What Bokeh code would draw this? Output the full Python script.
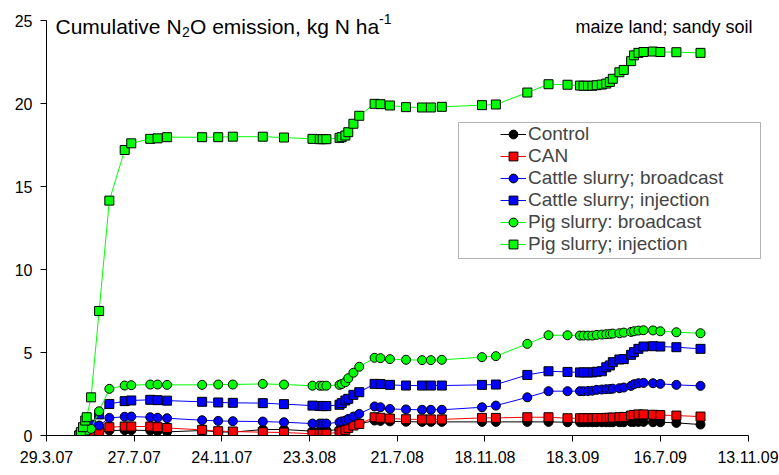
from datetime import datetime, timedelta

from bokeh.plotting import figure
from bokeh.models import (Range1d, FixedTicker, Label, Legend, LegendItem,
                          BoxAnnotation, ColumnDataSource)
from bokeh.embed import file_html
from bokeh.resources import INLINE

# Sampling dates (d.m.yy)
dates = [
    "13.5.07", "15.5.07", "18.5.07", "21.5.07", "23.5.07", "29.5.07", "9.6.07", "23.6.07", "14.7.07", "23.7.07",
    "18.8.07", "28.8.07", "10.9.07", "28.10.07", "19.11.07", "9.12.07", "19.1.08", "17.2.08", "27.3.08", "6.4.08",
    "10.4.08", "15.4.08", "3.5.08", "6.5.08", "11.5.08", "15.5.08", "22.5.08", "30.5.08", "20.6.08", "28.6.08",
    "11.7.08", "2.8.08", "24.8.08", "5.9.08", "20.9.08", "14.11.08", "3.12.08", "15.1.09", "13.2.09", "11.3.09",
    "28.3.09", "2.4.09", "8.4.09", "14.4.09", "20.4.09", "27.4.09", "3.5.09", "8.5.09", "12.5.09", "21.5.09",
    "27.5.09", "6.6.09", "10.6.09", "16.6.09", "23.6.09", "6.7.09", "16.7.09", "7.8.09", "9.9.09",
]

# Cumulative N2O emission, kg N/ha
control = [
    0.0, 0.0, 0.03, 0.05, 0.08, 0.1, 0.15, 0.3, 0.32, 0.32,
    0.3, 0.26, 0.22, 0.3, 0.22, 0.2, 0.36, 0.36, 0.26, 0.28,
    0.3, 0.3, 0.35, 0.4, 0.45, 0.55, 0.65, 0.7, 0.9, 0.88,
    0.85, 0.83, 0.82, 0.82, 0.82, 0.82, 0.82, 0.82, 0.82, 0.8,
    0.8, 0.8, 0.8, 0.8, 0.8, 0.8, 0.8, 0.8, 0.8, 0.8,
    0.8, 0.82, 0.82, 0.82, 0.82, 0.8, 0.8, 0.76, 0.66,
]
can = [
    0.0, 0.0, 0.05, 0.1, 0.15, 0.2, 0.25, 0.5, 0.54, 0.54,
    0.54, 0.5, 0.45, 0.34, 0.26, 0.24, 0.2, 0.18, 0.1, 0.1,
    0.1, 0.1, 0.2, 0.25, 0.34, 0.46, 0.6, 0.7, 1.1, 1.07,
    1.02, 0.98, 0.97, 0.97, 0.97, 1.06, 1.06, 1.1, 1.1, 1.04,
    1.04, 1.04, 1.04, 1.04, 1.05, 1.05, 1.06, 1.07, 1.08, 1.1,
    1.12, 1.2, 1.24, 1.27, 1.27, 1.25, 1.23, 1.2, 1.14,
]
cattle_broadcast = [
    0.0, 0.05, 0.1, 0.2, 0.3, 0.45, 0.6, 1.06, 1.13, 1.14,
    1.1, 1.07, 1.04, 0.92, 0.88, 0.86, 0.84, 0.8, 0.72, 0.72,
    0.72, 0.72, 0.8, 0.85, 0.9, 1.0, 1.14, 1.3, 1.75, 1.7,
    1.6, 1.57, 1.55, 1.55, 1.55, 1.7, 1.8, 2.3, 2.67, 2.67,
    2.67, 2.67, 2.68, 2.7, 2.75, 2.77, 2.79, 2.8, 2.82, 2.85,
    2.89, 2.99, 3.09, 3.15, 3.17, 3.15, 3.11, 3.05, 2.99,
]
cattle_injection = [
    0.0, 0.05, 0.15, 0.3, 0.4, 0.65, 1.27, 1.9, 2.07, 2.11,
    2.15, 2.13, 2.1, 2.03, 1.99, 1.97, 1.95, 1.89, 1.8, 1.78,
    1.77, 1.77, 1.85, 1.95, 2.11, 2.21, 2.45, 2.61, 3.11, 3.1,
    3.05, 3.01, 3.01, 3.01, 3.01, 3.05, 3.07, 3.65, 3.87, 3.83,
    3.8, 3.8, 3.8, 3.8, 3.84, 3.87, 4.11, 4.22, 4.42, 4.58,
    4.6, 4.86, 5.02, 5.22, 5.36, 5.38, 5.36, 5.32, 5.22,
]
pig_broadcast = [
    0.0, 0.05, 0.1, 0.15, 0.3, 0.4, 1.46, 2.81, 3.01, 3.03,
    3.07, 3.07, 3.05, 3.05, 3.07, 3.07, 3.11, 3.07, 3.0, 3.0,
    3.0, 3.0, 3.05, 3.1, 3.21, 3.45, 3.78, 4.14, 4.68, 4.66,
    4.6, 4.56, 4.54, 4.54, 4.56, 4.72, 4.78, 5.52, 6.04, 6.04,
    6.02, 6.02, 6.02, 6.02, 6.06, 6.08, 6.1, 6.12, 6.14, 6.16,
    6.2, 6.24, 6.28, 6.32, 6.34, 6.33, 6.28, 6.22, 6.16,
]
pig_injection = [
    0.0, 0.2, 0.5, 0.9, 1.1, 2.3, 7.5, 14.15, 17.2, 17.6,
    17.87, 17.9, 17.97, 17.97, 17.97, 18.0, 18.0, 17.95, 17.87, 17.85,
    17.85, 17.85, 17.93, 17.97, 18.07, 18.27, 18.78, 19.26, 19.98, 19.96,
    19.88, 19.78, 19.76, 19.76, 19.8, 19.9, 19.94, 20.66, 21.16, 21.13,
    21.08, 21.07, 21.07, 21.07, 21.1, 21.14, 21.2, 21.3, 21.49, 21.88,
    22.02, 22.55, 22.9, 23.05, 23.1, 23.13, 23.1, 23.09, 23.05,
]

series_names = ["Control", "CAN", "Cattle slurry; broadcast", "Cattle slurry; injection",
                "Pig slurry: broadcast", "Pig slurry; injection"]
series_values = [control, can, cattle_broadcast, cattle_injection, pig_broadcast, pig_injection]
series_colors = ["#000000", "#FF0000", "#0000FF", "#0000FF", "#00FF00", "#00FF00"]
series_markers = ["circle", "square", "circle", "square", "circle", "square"]

x_tick_labels = ["29.3.07", "27.7.07", "24.11.07", "23.3.08", "21.7.08",
                 "18.11.08", "18.3.09", "16.7.09", "13.11.09"]
y_ticks = [0, 5, 10, 15, 20, 25]


def parse(s):
    return datetime.strptime(s, "%d.%m.%y")


def to_ms(d):
    return int((d - datetime(1970, 1, 1)).total_seconds() * 1000)


x = [parse(s) for s in dates]
tick_dates = [parse(s) for s in x_tick_labels]
tick_ms = [to_ms(d) for d in tick_dates]

FONT = "Liberation Sans"
W, H = 779, 475
LEFT, RIGHT, TOP, BOTTOM = 46, 9, 0, 40
frame_w = W - LEFT - RIGHT
frame_h = H - TOP - BOTTOM
axis_px = 701.5     # pixel length of the drawn date axis
axis_top_px = 415   # pixel height of the 0..25 value axis

x_start, x_last = tick_dates[0], tick_dates[-1]
span_days = (x_last - x_start).days
x_end = x_start + timedelta(days=span_days * frame_w / axis_px)
y_end = 25 * frame_h / axis_top_px
days_per_px = span_days / axis_px
units_per_px = 25 / axis_top_px


def px_to_x(px):
    """Canvas pixel column -> date on the x scale."""
    return to_ms(x_start + timedelta(days=(px - LEFT) * days_per_px))


def px_to_y(py):
    """Canvas pixel row -> value on the y scale."""
    return (frame_h - py) * units_per_px


p = figure(width=W, height=H, output_backend="svg", toolbar_location=None,
           x_axis_type="datetime",
           x_range=Range1d(x_start, x_end), y_range=Range1d(0, y_end),
           min_border_left=LEFT, min_border_right=RIGHT,
           min_border_top=TOP, min_border_bottom=BOTTOM)
p.outline_line_color = None
p.grid.visible = False
p.background_fill_color = "white"
p.border_fill_color = "white"

# Axes
p.xaxis.ticker = FixedTicker(ticks=tick_ms)
p.xaxis.major_label_overrides = {ms: lab for ms, lab in zip(tick_ms, x_tick_labels)}
p.xaxis.bounds = (tick_ms[0], tick_ms[-1])
p.yaxis.ticker = FixedTicker(ticks=y_ticks)
p.yaxis.bounds = (0, 25)
for ax in (p.xaxis[0], p.yaxis[0]):
    ax.axis_line_color = "black"
    ax.axis_line_width = 1
    ax.major_tick_line_color = "black"
    ax.major_tick_in = 0
    ax.major_tick_out = 6
    ax.minor_tick_line_color = None
    ax.major_label_text_font = FONT
    ax.major_label_text_font_size = "16px"
    ax.major_label_text_color = "black"
p.xaxis.major_label_standoff = 9
p.yaxis.major_label_standoff = 8

# Series
items = []
for name, vals, col, mk in zip(series_names, series_values, series_colors, series_markers):
    src = ColumnDataSource(dict(x=x, y=vals))
    ln = p.line("x", "y", source=src, line_color=col, line_width=1)
    sc = p.scatter("x", "y", source=src, marker=mk, size=9,
                   fill_color=col, line_color="black", line_width=1)
    items.append(LegendItem(label=name, renderers=[ln, sc]))

# Legend frame and entries
p.add_layout(BoxAnnotation(left=px_to_x(458), right=px_to_x(760),
                           top=px_to_y(122), bottom=px_to_y(258),
                           fill_alpha=0, line_color="black", line_width=1,
                           level="overlay"))
legend = Legend(items=items, location=(454, 180), orientation="vertical",
                border_line_alpha=0, background_fill_alpha=0,
                padding=0, spacing=0, margin=0,
                label_height=22, glyph_height=22, glyph_width=26,
                label_standoff=2,
                label_text_font=FONT, label_text_font_size="19px")
p.add_layout(legend, "center")

# Title texts
base_y = frame_h - 26
title_parts = [
    ("Cumulative N", 9, base_y, "21px"),
    ("2", 135.5, base_y - 5, "14px"),
    ("O emission, kg N ha", 143.5, base_y, "21px"),
    ("-1", 332.5, base_y + 8, "14px"),
]
for txt, sx, sy, fs in title_parts:
    p.add_layout(Label(x=sx, y=sy, x_units="screen", y_units="screen", text=txt,
                       text_font=FONT, text_font_size=fs, text_color="black",
                       text_baseline="alphabetic"))
p.add_layout(Label(x=529, y=frame_h - 26, x_units="screen", y_units="screen",
                   text="maize land; sandy soil", text_font=FONT, text_font_size="18px",
                   text_color="black", text_baseline="alphabetic"))

open("out.html", "w").write(file_html(p, INLINE))
